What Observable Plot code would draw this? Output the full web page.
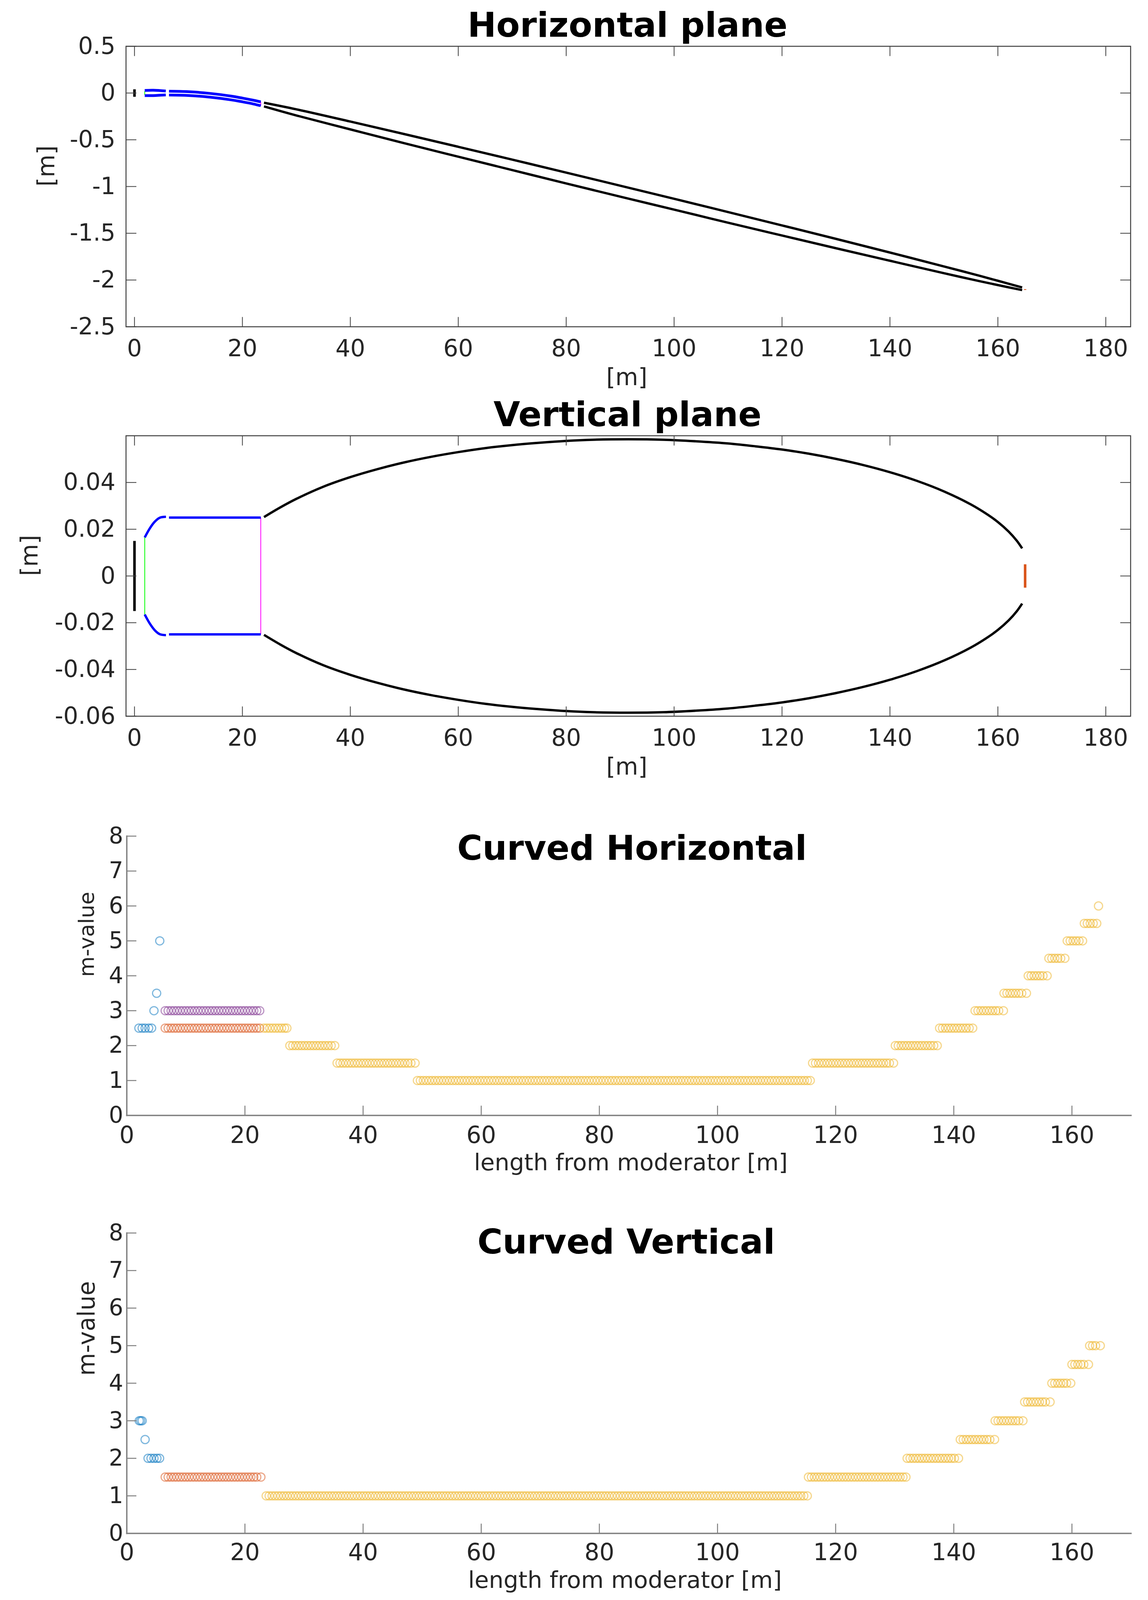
<!DOCTYPE html>
<html>
<head>
<meta charset="utf-8">
<script src="https://cdn.jsdelivr.net/npm/d3@7"></script>
<script src="https://cdn.jsdelivr.net/npm/@observablehq/plot@0.6"></script>
<style>
  html, body { margin: 0; padding: 0; background: #fff; }
  svg { display: block; }
</style>
</head>
<body>
<div id="charts"></div>
<script>
// top view of the guide
const hSourceX = [0, 0];
const hSourceY = [0.04, -0.04];
const hFeederX = [1.9, 3.5, 5.8];
const hFeederTop = [0.028, 0.03, 0.022];
const hFeederBottom = [-0.028, -0.027, -0.02];
const hBendX = [6.4, 10, 14, 18, 20, 22, 23.4];
const hBendTop = [0.019, 0.014, -0.004, -0.034, -0.054, -0.0765, -0.094];
const hBendBottom = [-0.021, -0.026, -0.044, -0.074, -0.094, -0.1165, -0.136];
const hGreenX = [1.9, 1.9];
const hGreenY = [0.02, -0.02];
const hPinkX = [23.4, 23.4];
const hPinkY = [-0.094, -0.136];
const hGuideX = [24, 30, 40, 50, 60, 70, 80, 91.5, 100, 110, 120, 130, 140, 150, 155, 160, 164.5];
const hGuideTop = [-0.1035, -0.174, -0.305, -0.439, -0.575, -0.712, -0.851, -1.012, -1.131, -1.273, -1.416, -1.56, -1.706, -1.855, -1.93, -2.008, -2.08];
const hGuideBottom = [-0.143, -0.24, -0.389, -0.537, -0.681, -0.824, -0.967, -1.129, -1.247, -1.387, -1.524, -1.66, -1.794, -1.927, -1.992, -2.054, -2.108];
const hSampleX = [165.05, 165.05];
const hSampleY = [-2.098, -2.106];

// side view
const vSourceX = [0, 0];
const vSourceY = [0.015, -0.015];
const vFeederX = [1.9, 2.82, 3.75, 4.68, 5.83];
const vFeederTop = [0.0165, 0.0203, 0.0232, 0.0249, 0.0253];
const vFeederBottom = [-0.0165, -0.0203, -0.0232, -0.0249, -0.0253];
const vBendX = [6.4, 23.4];
const vBendTop = [0.025, 0.025];
const vBendBottom = [-0.025, -0.025];
const vGreenX = [1.9, 1.9];
const vGreenY = [0.0165, -0.0165];
const vPinkX = [23.4, 23.4];
const vPinkY = [0.025, -0.025];
const vGuideX = [24, 27, 30, 35, 40, 45, 50, 55, 60, 65, 70, 75, 80, 85, 91.5, 98, 105, 110, 115, 120, 125, 130, 135, 140, 145, 150, 155, 158, 160, 162, 163.5, 164.5];
const vGuideTop = [0.0252, 0.0293, 0.033, 0.0382, 0.0423, 0.0457, 0.0486, 0.051, 0.053, 0.0547, 0.056, 0.057, 0.0578, 0.0583, 0.0585, 0.0583, 0.0575, 0.0567, 0.0555, 0.0541, 0.0523, 0.0501, 0.0475, 0.0444, 0.0407, 0.0362, 0.0306, 0.0264, 0.0231, 0.019, 0.0151, 0.0118];
const vGuideBottom = [-0.0252, -0.0293, -0.033, -0.0382, -0.0423, -0.0457, -0.0486, -0.051, -0.053, -0.0547, -0.056, -0.057, -0.0578, -0.0583, -0.0585, -0.0583, -0.0575, -0.0567, -0.0555, -0.0541, -0.0523, -0.0501, -0.0475, -0.0444, -0.0407, -0.0362, -0.0306, -0.0264, -0.0231, -0.019, -0.0151, -0.0118];
const vSampleX = [165.05, 165.05];
const vSampleY = [0.005, -0.005];

// m-values, curved horizontal
const hmBlue = [
  [2.5, [2.05, 2.6, 3.1, 3.7, 4.2]],
  [3, [4.6]],
  [3.5, [5.05]],
  [5, [5.58]]
];
const hmRed = [
  [2.5, [6.5, 7, 7.5, 8, 8.5, 9, 9.5, 10, 10.5, 11, 11.5, 12, 12.5, 13, 13.5, 14, 14.5, 15, 15.5, 16, 16.5, 17, 17.5, 18, 18.5, 19, 19.5, 20, 20.5, 21, 21.5, 22, 22.5]]
];
const hmPurple = [
  [3, [6.5, 7, 7.5, 8, 8.5, 9, 9.5, 10, 10.5, 11, 11.5, 12, 12.5, 13, 13.5, 14, 14.5, 15, 15.5, 16, 16.5, 17, 17.5, 18, 18.5, 19, 19.5, 20, 20.5, 21, 21.5, 22, 22.5]]
];
const hmYellow = [
  [2.5, [23.2, 23.7, 24.2, 24.7, 25.2, 25.7, 26.2, 26.7, 27.1]],
  [2, [27.6, 28.1, 28.6, 29.1, 29.6, 30.1, 30.6, 31.1, 31.6, 32.1, 32.6, 33.1, 33.6, 34.1, 34.6, 35.2]],
  [1.5, [35.6, 36.1, 36.6, 37.1, 37.6, 38.1, 38.6, 39.1, 39.6, 40.1, 40.6, 41.1, 41.6, 42.1, 42.6, 43.1, 43.6, 44.1, 44.6, 45.1, 45.6, 46.1, 46.6, 47.1, 47.6, 48.1, 48.8]],
  [1, [49.2, 49.7, 50.2, 50.7, 51.2, 51.7, 52.2, 52.7, 53.2, 53.7, 54.2, 54.7, 55.2, 55.7, 56.2, 56.7, 57.2, 57.7, 58.2, 58.7,
       59.2, 59.7, 60.2, 60.7, 61.2, 61.7, 62.2, 62.7, 63.2, 63.7, 64.2, 64.7, 65.2, 65.7, 66.2, 66.7, 67.2, 67.7, 68.2, 68.7,
       69.2, 69.7, 70.2, 70.7, 71.2, 71.7, 72.2, 72.7, 73.2, 73.7, 74.2, 74.7, 75.2, 75.7, 76.2, 76.7, 77.2, 77.7, 78.2, 78.7,
       79.2, 79.7, 80.2, 80.7, 81.2, 81.7, 82.2, 82.7, 83.2, 83.7, 84.2, 84.7, 85.2, 85.7, 86.2, 86.7, 87.2, 87.7, 88.2, 88.7,
       89.2, 89.7, 90.2, 90.7, 91.2, 91.7, 92.2, 92.7, 93.2, 93.7, 94.2, 94.7, 95.2, 95.7, 96.2, 96.7, 97.2, 97.7, 98.2, 98.7,
       99.2, 99.7, 100.2, 100.7, 101.2, 101.7, 102.2, 102.7, 103.2, 103.7, 104.2, 104.7, 105.2, 105.7, 106.2, 106.7, 107.2, 107.7, 108.2, 108.7,
       109.2, 109.7, 110.2, 110.7, 111.2, 111.7, 112.2, 112.7, 113.2, 113.7, 114.2, 114.7, 115.2, 115.7]],
  [1.5, [116.1, 116.6, 117.1, 117.6, 118.1, 118.6, 119.1, 119.6, 120.1, 120.6, 121.1, 121.6, 122.1, 122.6, 123.1, 123.6, 124.1, 124.6, 125.1, 125.6, 126.1, 126.6, 127.1, 127.6, 128.1, 128.6, 129.1, 129.8]],
  [2, [130.1, 130.6, 131.1, 131.6, 132.1, 132.6, 133.1, 133.6, 134.1, 134.6, 135.1, 135.6, 136.1, 136.6, 137.2]],
  [2.5, [137.6, 138.1, 138.6, 139.1, 139.6, 140.1, 140.6, 141.1, 141.6, 142.1, 142.6, 143.2]],
  [3, [143.6, 144.1, 144.6, 145.1, 145.6, 146.1, 146.6, 147.1, 147.6, 148.4]],
  [3.5, [148.5, 149, 149.5, 150, 150.5, 151, 151.5, 152.3]],
  [4, [152.6, 153.1, 153.6, 154.1, 154.6, 155.1, 155.8]],
  [4.5, [156.1, 156.6, 157.1, 157.6, 158.1, 158.8]],
  [5, [159.2, 159.7, 160.2, 160.7, 161.2, 161.8]],
  [5.5, [162.1, 162.6, 163.1, 163.6, 164.2]],
  [6, [164.5]]
];

// m-values, curved vertical
const vmBlue = [
  [3, [2.1, 2.35, 2.6]],
  [2.5, [3.1]],
  [2, [3.6, 4.1, 4.6, 5.1, 5.55]]
];
const vmRed = [
  [1.5, [6.5, 7, 7.5, 8, 8.5, 9, 9.5, 10, 10.5, 11, 11.5, 12, 12.5, 13, 13.5, 14, 14.5, 15, 15.5, 16, 16.5, 17, 17.5, 18, 18.5, 19, 19.5, 20, 20.5, 21, 21.5, 22, 22.7]]
];
const vmYellow = [
  [1, [23.6, 24.1, 24.6, 25.1, 25.6, 26.1, 26.6, 27.1, 27.6, 28.1, 28.6, 29.1, 29.6, 30.1, 30.6, 31.1, 31.6, 32.1, 32.6, 33.1,
       33.6, 34.1, 34.6, 35.1, 35.6, 36.1, 36.6, 37.1, 37.6, 38.1, 38.6, 39.1, 39.6, 40.1, 40.6, 41.1, 41.6, 42.1, 42.6, 43.1,
       43.6, 44.1, 44.6, 45.1, 45.6, 46.1, 46.6, 47.1, 47.6, 48.1, 48.6, 49.1, 49.6, 50.1, 50.6, 51.1, 51.6, 52.1, 52.6, 53.1,
       53.6, 54.1, 54.6, 55.1, 55.6, 56.1, 56.6, 57.1, 57.6, 58.1, 58.6, 59.1, 59.6, 60.1, 60.6, 61.1, 61.6, 62.1, 62.6, 63.1,
       63.6, 64.1, 64.6, 65.1, 65.6, 66.1, 66.6, 67.1, 67.6, 68.1, 68.6, 69.1, 69.6, 70.1, 70.6, 71.1, 71.6, 72.1, 72.6, 73.1,
       73.6, 74.1, 74.6, 75.1, 75.6, 76.1, 76.6, 77.1, 77.6, 78.1, 78.6, 79.1, 79.6, 80.1, 80.6, 81.1, 81.6, 82.1, 82.6, 83.1,
       83.6, 84.1, 84.6, 85.1, 85.6, 86.1, 86.6, 87.1, 87.6, 88.1, 88.6, 89.1, 89.6, 90.1, 90.6, 91.1, 91.6, 92.1, 92.6, 93.1,
       93.6, 94.1, 94.6, 95.1, 95.6, 96.1, 96.6, 97.1, 97.6, 98.1, 98.6, 99.1, 99.6, 100.1, 100.6, 101.1, 101.6, 102.1, 102.6, 103.1,
       103.6, 104.1, 104.6, 105.1, 105.6, 106.1, 106.6, 107.1, 107.6, 108.1, 108.6, 109.1, 109.6, 110.1, 110.6, 111.1, 111.6, 112.1, 112.6, 113.1,
       113.6, 114.1, 114.6, 115.2]],
  [1.5, [115.4, 115.9, 116.4, 116.9, 117.4, 117.9, 118.4, 118.9, 119.4, 119.9, 120.4, 120.9, 121.4, 121.9, 122.4, 122.9, 123.4, 123.9, 124.4, 124.9,
         125.4, 125.9, 126.4, 126.9, 127.4, 127.9, 128.4, 128.9, 129.4, 129.9, 130.4, 130.9, 131.4, 131.9]],
  [2, [132.1, 132.6, 133.1, 133.6, 134.1, 134.6, 135.1, 135.6, 136.1, 136.6, 137.1, 137.6, 138.1, 138.6, 139.1, 139.6, 140.1, 140.8]],
  [2.5, [141.1, 141.6, 142.1, 142.6, 143.1, 143.6, 144.1, 144.6, 145.1, 145.6, 146.1, 146.9]],
  [3, [147, 147.5, 148, 148.5, 149, 149.5, 150, 150.5, 151, 151.7]],
  [3.5, [152, 152.5, 153, 153.5, 154, 154.5, 155, 155.5, 156.3]],
  [4, [156.6, 157.1, 157.6, 158.1, 158.6, 159.1, 159.8]],
  [4.5, [160, 160.5, 161, 161.5, 162, 162.8]],
  [5, [163, 163.5, 164, 164.8]]
];

const planeXTicks = [0, 20, 40, 60, 80, 100, 120, 140, 160, 180];
const hYTicks = [0.5, 0, -0.5, -1, -1.5, -2, -2.5];
const vYTicks = [0.04, 0.02, 0, -0.02, -0.04, -0.06];
const mXTicks = [0, 20, 40, 60, 80, 100, 120, 140, 160];
const mYTicks = [0, 1, 2, 3, 4, 5, 6, 7, 8];

const font = "DejaVu Sans";
const textColor = "#262626";
const blue = "#0072BD", red = "#D95319", yellow = "#EDB120", purple = "#7E2F8E";

function pairs(xs, ys) {
  return xs.map((x, i) => ({x, y: ys[i]}));
}

function rowsToPoints(rows) {
  return rows.flatMap(([m, xs]) => xs.map(x => ({x, y: m})));
}

function seg(xs, ys, stroke, strokeWidth, curve = "linear") {
  return Plot.line(pairs(xs, ys), {x: "x", y: "y", stroke, strokeWidth, curve, strokeLinecap: "butt", strokeLinejoin: "round"});
}

function label(txt, opts) {
  return Plot.text([txt], {text: d => d, fontFamily: font, fill: textColor, lineAnchor: "middle", ...opts});
}

// the browser window stops at 4096 px, so the panels are spaced to fit that height
// the two guide layout panels share a boxed frame with ticks on all four sides
function planePlot({height, marginTop, marginBottom, domainY, yTicks, yLabelDx, title, titleDy, xLabelDy, xTickPad}) {
  const tick = {stroke: "#404040", strokeWidth: 2, label: null};
  return (marks) => Plot.plot({
    width: 2938, height, marginLeft: 322, marginRight: 45, marginTop, marginBottom,
    x: {domain: [-1.57, 184.6]},
    y: {domain: domainY},
    style: {fontFamily: font, background: "#fff"},
    marks: [
      ...marks,
      Plot.frame({stroke: "#404040", strokeWidth: 2.5}),
      Plot.axisX(planeXTicks, {...tick, anchor: "bottom", tickSize: -24.5, tickPadding: xTickPad, fontSize: 60, fill: textColor, tickFormat: d => String(d)}),
      Plot.axisX(planeXTicks, {...tick, anchor: "top", tickSize: -24.5, tickFormat: () => ""}),
      Plot.axisY(yTicks, {...tick, anchor: "left", tickSize: -27, tickPadding: 54, fontSize: 60, fill: textColor, tickFormat: d => String(d)}),
      Plot.axisY(yTicks, {...tick, anchor: "right", tickSize: -27, tickFormat: () => ""}),
      label(title, {frameAnchor: "top", dy: titleDy, dx: -2, fontSize: 88, fontWeight: "bold", fill: "#000"}),
      label("[m]", {frameAnchor: "bottom", dy: xLabelDy, dx: -4, fontSize: 60}),
      label("[m]", {frameAnchor: "left", dx: yLabelDx, rotate: -90, fontSize: 60})
    ]
  });
}

// the two m-value panels only have a left and bottom spine
function mPlot({height, marginTop, marginBottom, title, titleDy, titleDx, xLabelDx, xLabelDy, yLabelDy, yLabelSize, xTickPad, series}) {
  const tick = {stroke: "#808080", strokeWidth: 2.5, label: null};
  return Plot.plot({
    width: 2938, height, marginLeft: 324, marginRight: 44, marginTop, marginBottom,
    x: {domain: [0, 170]},
    y: {domain: [0, 8]},
    style: {fontFamily: font, background: "#fff"},
    marks: [
      ...series.map(([rows, stroke]) => Plot.dot(rowsToPoints(rows), {x: "x", y: "y", r: 10.5, stroke, strokeWidth: 3, strokeOpacity: 0.5, fill: "none"})),
      Plot.frame({anchor: "left", stroke: "#808080", strokeWidth: 3.5}),
      Plot.frame({anchor: "bottom", stroke: "#808080", strokeWidth: 3.5}),
      Plot.axisX(mXTicks, {...tick, anchor: "bottom", tickSize: -24.5, tickPadding: xTickPad, fontSize: 60, fill: textColor, tickFormat: d => String(d)}),
      Plot.axisY(mYTicks, {...tick, anchor: "left", tickSize: -25, tickPadding: 34, fontSize: 58, fill: textColor, tickFormat: d => String(d)}),
      label(title, {frameAnchor: "top", dy: titleDy, dx: titleDx, fontSize: 88, fontWeight: "bold", fill: "#000"}),
      label("length from moderator [m]", {frameAnchor: "bottom", dx: xLabelDx, dy: xLabelDy, fontSize: 59.5}),
      label("m-value", {frameAnchor: "left", dx: -102, dy: yLabelDy, rotate: -90, fontSize: yLabelSize})
    ]
  });
}

const root = document.getElementById("charts");

root.appendChild(planePlot({
  height: 1000, marginTop: 118, marginBottom: 164,
  domainY: [-2.5, 0.5], yTicks: hYTicks, yLabelDx: -203,
  title: "Horizontal plane", titleDy: -53, xLabelDy: 130, xTickPad: 57.5
})([
  seg(hGreenX, hGreenY, "#00ff00", 2),
  seg(hPinkX, hPinkY, "#ff00ff", 2),
  seg(hSourceX, hSourceY, "#000", 6.5),
  seg(hFeederX, hFeederTop, "#0000ff", 7, "catmull-rom"),
  seg(hFeederX, hFeederBottom, "#0000ff", 7, "catmull-rom"),
  seg(hBendX, hBendTop, "#0000ff", 7, "catmull-rom"),
  seg(hBendX, hBendBottom, "#0000ff", 7, "catmull-rom"),
  seg(hGuideX, hGuideTop, "#000", 6, "catmull-rom"),
  seg(hGuideX, hGuideBottom, "#000", 6, "catmull-rom"),
  seg(hSampleX, hSampleY, red, 6)
]));

root.appendChild(planePlot({
  height: 1057, marginTop: 115, marginBottom: 224,
  domainY: [-0.06, 0.06], yTicks: vYTicks, yLabelDx: -246,
  title: "Vertical plane", titleDy: -53, xLabelDy: 130, xTickPad: 57.5
})([
  seg(vGreenX, vGreenY, "#00ff00", 2),
  seg(vPinkX, vPinkY, "#ff00ff", 2),
  seg(vSourceX, vSourceY, "#000", 6.5),
  seg(vFeederX, vFeederTop, "#0000ff", 6, "catmull-rom"),
  seg(vFeederX, vFeederBottom, "#0000ff", 6, "catmull-rom"),
  seg(vBendX, vBendTop, "#0000ff", 6),
  seg(vBendX, vBendBottom, "#0000ff", 6),
  seg(vGuideX, vGuideTop, "#000", 6, "catmull-rom"),
  seg(vGuideX, vGuideBottom, "#000", 6, "catmull-rom"),
  seg(vSampleX, vSampleY, red, 6.5)
]));

root.appendChild(mPlot({
  height: 970, marginTop: 83, marginBottom: 172,
  title: "Curved Horizontal", titleDy: 32, titleDx: 8, xLabelDx: 5, xLabelDy: 121, yLabelDy: 3, yLabelSize: 54, xTickPad: 52.5,
  series: [[hmBlue, blue], [hmRed, red], [hmYellow, yellow], [hmPurple, purple]]
}));

root.appendChild(mPlot({
  height: 1069, marginTop: 129, marginBottom: 171,
  title: "Curved Vertical", titleDy: 24, titleDx: -7, xLabelDx: -10, xLabelDy: 120, yLabelDy: -19, yLabelSize: 60, xTickPad: 50,
  series: [[vmBlue, blue], [vmRed, red], [vmYellow, yellow]]
}));
</script>
</body>
</html>
